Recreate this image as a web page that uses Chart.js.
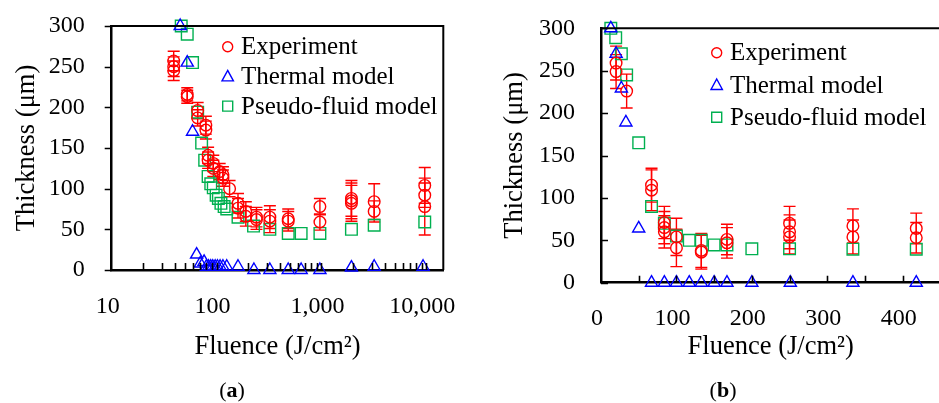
<!DOCTYPE html>
<html>
<head>
<meta charset="utf-8">
<script src="https://cdn.jsdelivr.net/npm/chart.js@4.4.1/dist/chart.umd.min.js"></script>
<style>
html,body{margin:0;padding:0;background:#fff;overflow:hidden;width:939px;height:403px;}
#wrapA{position:absolute;left:0;top:0;width:470px;height:403px;}
#wrapB{position:absolute;left:470px;top:0;width:480px;height:403px;}
.cap{position:absolute;top:377px;font-family:"Liberation Serif",serif;font-size:22px;width:60px;text-align:center;color:#000;}
</style>
</head>
<body>
<div id="wrapA"><canvas id="chartA" width="470" height="403"></canvas></div>
<div id="wrapB"><canvas id="chartB" width="480" height="403"></canvas></div>
<div class="cap" style="left:202px">(<b>a</b>)</div>
<div class="cap" style="left:693px">(<b>b</b>)</div>
<script>
// ---- panel (a): log fluence axis ----
const expA_x   = [39,39,39,52.5,52.5,66,66,79,79,83,83,93,93,107,115,115,133,160,160,190,190,240,240,322,322,482,482,966,966,1930,1930,1930,3180,3180,9650,9650,9650];
const expA_y   = [257,250,245,216,213,196,187,178,172,141,135,131,125,121,117,113,100,82,76,72,66,65,62,65,60,63,60,78,59,88,85,82,84,72,104,92,78];
const expA_err = [12,12,12,8,8,10,10,11,11,10,10,10,10,10,10,10,10,12,12,12,12,12,12,14,14,12,12,10,10,22,22,22,22,13,22,15,35];

const thermA_x = [45,52.5,59,64.5,70,76,80,84,88,92,97,102,108,115,125,160,227,322,482,640,966,1930,3180,9300];
const thermA_y = [300,255,170,19,8,10,4,4,4,4,4,4,4,4,4,4,0,0,0,0,0,3,4,4];

const pseudoA_x = [46,52.5,59,66,72,77,83,88,93,99,104,110,118,125,160,225,322,482,640,966,1930,3180,9650];
const pseudoA_y = [300,290,255,194,156,135,115,106,101,92,88,82,78,75,65,54,50,45,45,45,50,55,59];

const xLabelValsA = [10,100,1000,10000];
const xLabelsA = ['10','100','1,000','10,000'];
const xMarksA = [20,30,40,50,60,70,80,90,100,200,300,400,500,600,700,800,900,1000,2000,3000,4000,5000,6000,7000,8000,9000,10000];

// ---- panel (b): linear fluence axis ----
const expB_x   = [20,20,34,67,67,84,84,84,100,100,133,133,167,167,250,250,250,334,334,418,418];
const expB_y   = [259,249,226,115,109,71,65,60,54,41,38,36,51,47,70,60,54,67,54,64,53];
const expB_err = [20,20,20,20,24,19,19,19,22,22,20,20,18,18,20,20,20,20,20,18,18];

const thermB_x = [13,20,27,33,50,67,84,100,117,133,150,167,200,251,334,418];
const thermB_y = [300,270,229,189,64,0,0,0,0,0,0,0,0,0,0,0];

const pseudoB_x = [13,19.5,27,34,50,67,84,100,117,133,150,167,200,250,334,418];
const pseudoB_y = [300,289,270,245,165,90,70,55,50,50,44.5,44.5,40,40,39.5,39.5];

const xTicksB = [0,100,200,300,400];
const xMarksB = [50,100,150,200,250,300,350,400];

const yTicks = [0,50,100,150,200,250,300];

const RED = '#ff0000', BLUE = '#0000ff', GREEN = '#00b050';
const TITLE_FONT = {size:26.5};

Chart.defaults.font.family = '"Liberation Serif", "Times New Roman", serif';
Chart.defaults.font.size = 24;
Chart.defaults.color = '#000';

function pts(xs, ys){ return xs.map((x,i)=>({x:x, y:ys[i]})); }

function drawMarker(ctx, style, x, y, r){
  ctx.beginPath();
  if(style==='circle'){
    ctx.arc(x, y, r, 0, Math.PI*2);
  } else if(style==='rect'){
    ctx.rect(x-r, y-r, 2*r, 2*r);
  } else {
    ctx.moveTo(x, y-r);
    ctx.lineTo(x+r*0.95, y+r*0.75);
    ctx.lineTo(x-r*0.95, y+r*0.75);
    ctx.closePath();
  }
  ctx.stroke();
}

// error bars for the experiment series (dataset 0)
const errorBars = {
  id:'errorBars',
  beforeDatasetsDraw(chart, args, opts){
    const ctx = chart.ctx, xs = chart.scales.x, ys = chart.scales.y;
    ctx.save();
    ctx.strokeStyle = RED; ctx.lineWidth = 1.4;
    chart.data.datasets[0].data.forEach((p,i)=>{
      const px = xs.getPixelForValue(p.x);
      const t = ys.getPixelForValue(p.y + opts.errs[i]);
      const b = ys.getPixelForValue(p.y - opts.errs[i]);
      ctx.beginPath();
      ctx.moveTo(px, t); ctx.lineTo(px, b);
      ctx.moveTo(px-6, t); ctx.lineTo(px+6, t);
      ctx.moveTo(px-6, b); ctx.lineTo(px+6, b);
      ctx.stroke();
    });
    ctx.restore();
  }
};

// top/right frame and tick marks
const frame = {
  id:'frame',
  afterDatasetsDraw(chart, args, opts){
    const ctx = chart.ctx, a = chart.chartArea;
    const xs = chart.scales.x, ys = chart.scales.y;
    ctx.save();
    ctx.strokeStyle = '#000';
    ctx.lineWidth = 2;
    ctx.beginPath();
    ctx.moveTo(a.left, a.top); ctx.lineTo(a.right, a.top);
    if(opts.rightEdge){ ctx.lineTo(a.right, a.bottom); }
    ctx.stroke();
    ctx.lineWidth = 1.6;
    ctx.beginPath();
    opts.xMarks.forEach(v=>{
      const px = Math.round(xs.getPixelForValue(v)) + 0.5;
      ctx.moveTo(px, a.bottom); ctx.lineTo(px, a.bottom + (opts.xIn ? -opts.len : opts.len));
    });
    opts.yMarks.forEach(v=>{
      const py = Math.round(ys.getPixelForValue(v)) + 0.5;
      ctx.moveTo(a.left, py); ctx.lineTo(a.left + (opts.yIn ? opts.len : -opts.len), py);
    });
    ctx.stroke();
    ctx.restore();
  }
};

// legend box inside the plot
const legendBox = {
  id:'legendBox',
  afterDraw(chart, args, opts){
    const ctx = chart.ctx;
    ctx.save();
    ctx.font = '25px "Liberation Serif", serif';
    ctx.textBaseline = 'middle';
    ctx.fillStyle = '#000';
    chart.data.datasets.forEach((ds,i)=>{
      const y = opts.y + i*opts.dy;
      ctx.strokeStyle = ds.borderColor; ctx.lineWidth = 1.4;
      drawMarker(ctx, ds.pointStyle, opts.x, y, ds.pointStyle==='triangle' ? 6 : 5);
      ctx.fillText(ds.label, opts.textX, y + 1);
    });
    ctx.restore();
  }
};

function makeDatasets(ex, ey, tx, ty, px, py){
  return [
    {label:'Experiment', data:pts(ex,ey), pointStyle:'circle', pointRadius:5.8, borderColor:RED, backgroundColor:'rgba(0,0,0,0)', pointBorderWidth:1.4, clip:false},
    {label:'Thermal model', data:pts(tx,ty), pointStyle:'triangle', pointRadius:7, borderColor:BLUE, backgroundColor:'rgba(0,0,0,0)', pointBorderWidth:1.4, clip:false},
    {label:'Pseudo-fluid model', data:pts(px,py), pointStyle:'rect', pointRadius:8.2, borderColor:GREEN, backgroundColor:'rgba(0,0,0,0)', pointBorderWidth:1.4, clip:false}
  ];
}

function fixY(width){
  return s => { s.width = width; s.paddingTop = 0; s.paddingBottom = 0; };
}
function fixX(height){
  return s => { s.height = height; s.paddingLeft = 0; s.paddingRight = 0; };
}

function yAxis(width, titlePad, tickPad){
  return {
    type:'linear', min:0, max:300,
    afterBuildTicks: s => { s.ticks = yTicks.map(v=>({value:v})); },
    afterFit: fixY(width),
    grid:{display:false, drawTicks:false},
    border:{display:true, color:'#000', width:2.5},
    ticks:{padding:tickPad, color:'#000'},
    title:{display:true, text:'Thickness (μm)', color:'#000', font:TITLE_FONT, padding:{top:titlePad, bottom:0}}
  };
}

const common = {
  responsive:false, animation:false, devicePixelRatio:1, events:[]
};

new Chart(document.getElementById('chartA'), {
  type:'scatter',
  data:{datasets: makeDatasets(expA_x, expA_y, thermA_x, thermA_y, pseudoA_x, pseudoA_y)},
  options:Object.assign({}, common, {
    layout:{padding:{left:0, top:26, right:26.7, bottom:0}},
    scales:{
      x:{
        type:'logarithmic', min:10, max:14500, bounds:'data',
        afterBuildTicks: s => { s.ticks = xLabelValsA.map(v=>({value:v})); },
        afterFit: fixX(133),
        grid:{display:false, drawTicks:false},
        border:{display:true, color:'#000', width:2.5},
        ticks:{autoSkip:false, maxRotation:0, padding:22, labelOffset:-4, color:'#000', callback:(v,i)=>xLabelsA[i]},
        title:{display:true, text:'Fluence (J/cm²)', color:'#000', font:TITLE_FONT, padding:{top:0, bottom:40}}
      },
      y: yAxis(111.7, 11, 27)
    },
    plugins:{legend:{display:false}, tooltip:{enabled:false},
      errorBars:{errs:expA_err},
      frame:{rightEdge:true, xMarks:xMarksA, yMarks:yTicks, xIn:true, yIn:false, len:7},
      legendBox:{x:227.7, y:46.7, dy:29.7, textX:241}
    }
  }),
  plugins:[errorBars, frame, legendBox]
});

new Chart(document.getElementById('chartB'), {
  type:'scatter',
  data:{datasets: makeDatasets(expB_x, expB_y, thermB_x, thermB_y, pseudoB_x, pseudoB_y)},
  options:Object.assign({}, common, {
    layout:{padding:{left:0, top:28.3, right:1, bottom:0}},
    scales:{
      x:{
        type:'linear', min:0, max:450, bounds:'data',
        afterBuildTicks: s => { s.ticks = xTicksB.map(v=>({value:v})); },
        afterFit: fixX(120.3),
        grid:{display:false, drawTicks:false},
        border:{display:true, color:'#000', width:2.5},
        ticks:{autoSkip:false, maxRotation:0, padding:22, labelOffset:-4, color:'#000'},
        title:{display:true, text:'Fluence (J/cm²)', color:'#000', font:TITLE_FONT, padding:{top:0, bottom:40}}
      },
      y: yAxis(131, 29, 26)
    },
    plugins:{legend:{display:false}, tooltip:{enabled:false},
      errorBars:{errs:expB_err},
      frame:{rightEdge:false, xMarks:xMarksB, yMarks:yTicks, xIn:true, yIn:true, len:7},
      legendBox:{x:246.7, y:52.7, dy:32.3, textX:260}
    }
  }),
  plugins:[errorBars, frame, legendBox]
});
</script>
</body>
</html>
